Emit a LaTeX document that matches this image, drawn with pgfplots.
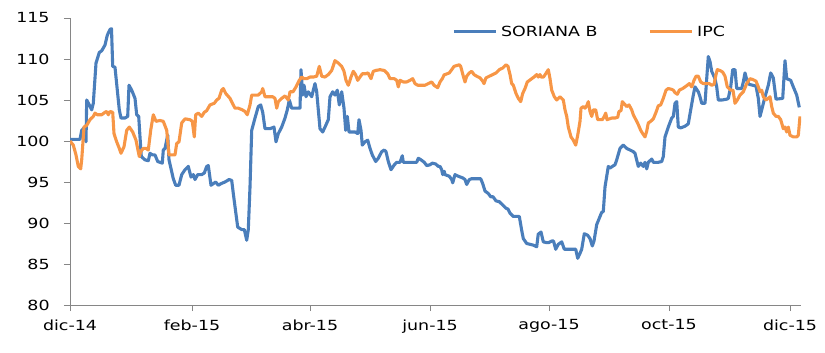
\documentclass[border=0pt]{standalone}
\usepackage{pgfplots}
\pgfplotsset{compat=1.18}
\usepackage{pgfplotstable}
\usepackage{fontspec}
\setmainfont{DejaVu Sans}
\definecolor{sorblue}{HTML}{4A7EBB}
\definecolor{ipcorange}{HTML}{F79646}
\definecolor{axgray}{HTML}{868686}

\pgfplotstableread{
x v
70 100.2
80 100.2
81.7 101.3
84 101.6
86 99.9
86.7 105
89.3 104.4
91.7 103.8
93.3 104.6
96 109.5
99.3 110.8
101.7 111
105 111.7
107.3 112.9
110 113.6
111.5 113.7
112.7 109.1
115 109
117.3 106.2
119.3 103.8
121 102.8
125 102.8
127.7 103
129 106.8
131.7 106.2
135 105.2
136.7 103.2
138.7 103
140 100.5
141.3 98.1
145 97.7
148.3 97.6
150 98.5
152.5 98.3
155 98.3
157.7 97.5
160 97.4
162.3 97.3
163.3 98.9
165 99.1
167.7 100.7
169 97.7
173.3 95.4
175.7 94.6
179 94.6
181.7 95.9
185 96.5
188.3 96.9
191 95.6
193.3 95.9
195 95.3
197.7 95.9
201.7 95.9
204.3 96.1
206.7 96.9
208.3 97.0
211 94.6
213.3 94.8
215.7 95.0
218.3 94.6
221 94.8
225 95.0
229 95.3
231.7 95.2
233.3 93.6
235 92.0
237.7 89.5
241.7 89.2
244.3 89.2
246.7 87.9
248.3 89.2
250 94.4
251.7 101.3
255 102.8
258.3 104.2
260.7 104.4
262.7 103.5
265 101.5
270 101.5
274 101.7
276 99.9
278.3 100.9
281.7 101.7
285 102.8
287.3 103.8
289.3 105
291.7 104.0
300 104.0
301 108.7
302.7 105.6
304 106.8
306 105.4
308.3 106.0
311.7 105.4
313.3 106.2
315 107.0
316.7 106.0
318.3 103.8
320 101.5
322.7 101.1
325 101.7
328.3 102.6
330 105.4
332.7 106.0
335 105.6
337.3 106.2
339.3 104.4
341.7 106.0
344 104.0
345.7 101.3
347.3 103.0
349 101.1
355 101.1
357.7 100.9
359 102.6
361 101.3
362.3 99.5
365 99.9
367.7 100.1
370 99.1
372.3 98.3
375.7 97.5
378.3 97.9
381.7 98.7
384.3 98.9
386 98.7
388.3 97.5
391 96.5
394.3 97.1
396.7 97.4
400 97.4
402.3 98.2
403.3 97.4
413.3 97.4
416.7 97.4
418.3 97.9
421 97.7
424.3 97.4
426.7 97.0
430 97.1
432.3 97.3
435.7 97.2
438.3 96.9
440 96.9
441.7 96.5
442.7 95.9
444.3 96.3
445 95.9
449.3 95.7
451.7 95.3
452.7 94.9
455 95.9
458.3 95.7
462.7 95.5
465 95.3
466.7 94.7
469.3 95.3
471.7 95.4
480.7 95.4
482.7 94.8
485 93.9
488.3 93.6
490.7 93.2
493 93.2
496 92.7
499.3 92.6
502.7 92.2
506 91.8
508 91.7
510 91.2
513.3 90.8
519.3 90.8
521.7 89.1
523.3 88.1
526.7 87.5
530 87.4
533.3 87.3
536.7 87.1
538.3 88.7
539 88.7
541 88.9
543.3 87.7
546.7 87.6
548.5 87.6
551.7 87.8
553.5 87.8
555.7 86.8
558.3 87.4
561.7 87.7
564.3 86.8
575.7 86.8
577.7 85.7
580 86.3
581.7 86.8
584.3 88.7
587.7 88.5
590 88.1
592.3 87.2
594 87.8
596.7 89.8
600 90.8
601.7 91.3
603.3 91.4
605 94.4
608.3 96.9
610 96.7
612.3 96.9
615 97.1
616.7 97.7
620 99.1
623.3 99.5
626.7 99.1
630 98.9
633.3 98.7
635 98.5
638.3 96.9
640.7 97.3
643.3 96.9
645 97.4
646.7 96.6
648.3 97.4
651.7 97.8
653.3 97.4
658.3 97.4
661.7 97.5
663.3 98.1
665 100.5
668.3 101.7
671.7 102.8
673.3 103.0
675 104.6
676.7 104.8
678.3 101.7
680.7 101.6
685 101.8
688.3 102.1
690.7 103.8
693.3 105.6
695 106.6
698.3 106.0
700 105.4
701.7 104.6
705 104.6
706.7 107.6
708.3 110.3
710 109.7
711.7 108.5
715 107.6
716.7 106.6
718.3 105.0
722 105.0
726.7 105.1
728.3 105.2
730.7 106.6
732.7 108.7
735 108.7
736.7 106.4
741.7 106.4
743.3 107.2
745 108.3
747.3 107.2
749.3 106.9
756 106.7
758.3 105.2
760 103.0
761.7 103.8
765 105.4
768.3 106.8
770.7 108.3
773.3 107.7
776 105.1
782.7 105.2
785 109.8
786.7 107.6
790.7 107.4
793.3 106.6
796.7 105.6
799.3 104.1
}\soriana

\pgfplotstableread{
x v
70 100
73.3 99.5
76 98.3
78.3 96.9
80.7 96.6
81.7 97.7
84 101.7
86.7 101.9
90 102.6
93.3 103.0
95 103.4
97.3 103.2
101.7 103.2
105 103.5
106.7 103.6
108.3 103.2
110 103.6
112.7 103.5
114 100.9
116.7 99.9
119.3 99.1
121 98.5
124 99.3
126.7 101.3
129.3 101.7
132.7 101.1
136 100.1
138.3 98.7
139.3 98.1
140.7 98.7
143.3 99.1
146 99.1
148.3 98.9
150.7 101.3
153.3 103.2
156 102.4
160 102.5
163.3 102.4
166.7 101.3
169 98.3
175 98.3
176.7 99.7
179 99.9
181.7 102.2
185 102.7
190 102.6
192.3 102.4
194.3 100.5
195.7 103.2
198.3 103.4
201.7 103.0
204.3 103.5
206.7 103.7
210 104.4
214.3 104.6
216.7 105.0
219 105.2
221.7 106.2
223.3 106.4
225.7 105.8
230 105.2
233.3 104.4
235 104.0
238.3 104.0
242.3 103.8
245 103.6
247.3 103.2
250 104.4
251.7 105.6
258.3 105.6
261.7 106.0
262.7 106.4
265 105.4
272.7 105.4
275 105.2
276.7 104.0
278.3 104.8
281.7 105.2
285 105.5
288.3 105.0
290 106.0
293 106.0
296 106.6
299.3 107.4
301.7 107.8
304 107.6
306.7 107.6
310 107.8
313.3 107.8
316.7 107.9
319.3 109.1
321.7 107.9
325 107.8
328.3 108.1
331.7 108.6
335 109.8
338.3 109.5
341.7 109.1
344 108.5
346 107.4
348.3 106.8
349.5 107.2
351 107.8
353.3 108.5
355.5 108.1
357.7 107.4
360 107.8
362.3 108.2
365.7 108.2
368 108.3
371 107.6
373.3 108.5
375.7 108.6
380 108.7
384.3 108.6
387.7 108.2
390 107.6
394.3 107.6
396.7 107.4
398.3 106.6
400 107.4
403.3 107.2
406.7 107.2
410 107.4
412.7 107.6
415 107.0
417.7 106.8
421 106.8
425 106.8
428.3 107.0
431.7 107.2
434 106.8
437.7 106.5
440 107.2
442.3 107.6
444.3 108.1
445 108.1
449.3 108.3
451.7 108.7
454 109.1
456.7 109.2
459.3 109.3
460.7 109.1
463.3 107.9
465 107.2
466.7 107.9
469.3 108.3
471.7 108.5
474 108.1
476.7 107.9
480 107.7
482.7 107.3
484 107.0
486 107.7
489.3 107.9
492.7 108.1
496 108.3
499.3 108.7
502.7 108.9
506 109.3
508 109.1
510 108.1
511.7 107.0
513.3 106.8
516 105.8
518.3 105.2
520.7 104.8
522.7 105.8
525 106.4
527.3 107.2
529.5 107.4
531.7 107.6
534 107.8
536.7 108.1
538.3 107.8
540 108.1
541 107.8
543.5 107.8
545.7 108.2
548.3 108.7
550 107.6
551.7 106.2
554.3 105.4
556.7 105.0
560 105.4
563.3 105.0
565 103.8
566.7 103.0
568.3 101.7
571 100.5
573.3 100.1
575.7 99.5
577.7 100.7
580 102.4
581 104.0
583.3 104.2
585 104.0
586.7 104.3
588.3 104.8
590 103.6
591.7 103.0
593.3 103.8
595.7 103.8
597.7 102.6
602.3 102.6
604.3 103.0
605.7 103.4
607 102.6
611.7 102.8
615 102.8
617.7 102.9
619 103.6
621 103.7
622.3 104.8
624.5 104.5
626.7 104.2
629 104.4
631.7 103.8
633.3 103.2
635 102.8
636.7 102.4
638.3 102.0
640.7 101.3
642.7 100.9
645 100.5
646.7 101.2
648.3 102.2
650.7 102.4
653.3 102.7
656 103.5
658.3 104.3
660.7 104.4
663.3 105.2
666 106.2
668.3 106.4
671.7 106.3
673.3 106.2
675 105.9
677.3 105.7
679.3 106.2
682.7 106.4
685 106.6
687.3 106.8
689.3 107.0
691.7 106.6
694 107.4
696 107.9
698.3 107.9
700.7 107.2
703.3 107.0
706 107.0
709.3 107.0
711.7 106.8
714 106.9
716 108.1
717.3 108.7
720 108.6
722.7 108.4
725 107.9
727.3 106.6
730.7 106.2
733 106.2
735 104.6
737.3 105.0
740 105.6
743.3 106.0
746.7 107.0
750 107.6
752.7 107.5
756 107.3
758.3 106.6
760 106.0
761.7 106.2
763.3 105.4
766 105.0
768.3 105.2
770 105.4
771.7 104.2
773.3 103.4
776 103.0
778.3 103.0
780.7 102.6
783.3 101.5
785 101.7
786.7 101.1
788.3 101.7
790 100.7
793.3 100.5
796.7 100.5
798.3 100.7
800 103.0
}\ipc

\begin{document}
\begin{tikzpicture}
\useasboundingbox (-70bp,-48bp) rectangle (755bp,305bp);
\begin{axis}[
  at={(0,0)}, anchor=south west,
  scale only axis, width=731bp, height=287bp,
  xmin=70, xmax=801, ymin=80, ymax=115,
  ytick={80,85,...,115},
  xtick={70,192,310,430,549,669,790},
  xticklabels={dic-14,feb-15,abr-15,jun-15,ago-15,oct-15,dic-15},
  axis x line*=bottom, axis y line*=left,
  axis line style={axgray, line width=0.9bp, -},
  tick style={axgray, line width=0.9bp},
  tick align=outside, major tick length=6bp,
  /pgf/number format/assume math mode=true,
  tick label style={font=\fontsize{14}{16}\selectfont, black, xscale=1.25},
  yticklabel style={anchor=east, xshift=-8bp},
  xticklabel style={anchor=north, yshift=-5bp},
  legend style={at={(0.5226,0.952)}, anchor=west, draw=none, fill=none,
    inner sep=0pt, font=\fontsize{14}{16}\selectfont,
    nodes={xscale=1.25, inner xsep=3bp},
    /tikz/every even column/.append style={column sep=47bp}},
  legend columns=2,
  legend image code/.code={\draw[#1] (0bp,0bp) -- (42bp,0bp);},
  line join=round,
]
\addplot[sorblue, line width=3.1bp, no marks] table[x=x, y=v] {\soriana};
\addlegendentry{SORIANA B}
\addplot[ipcorange, line width=3.1bp, no marks] table[x=x, y=v] {\ipc};
\addlegendentry{IPC}
\end{axis}
\end{tikzpicture}
\end{document}
